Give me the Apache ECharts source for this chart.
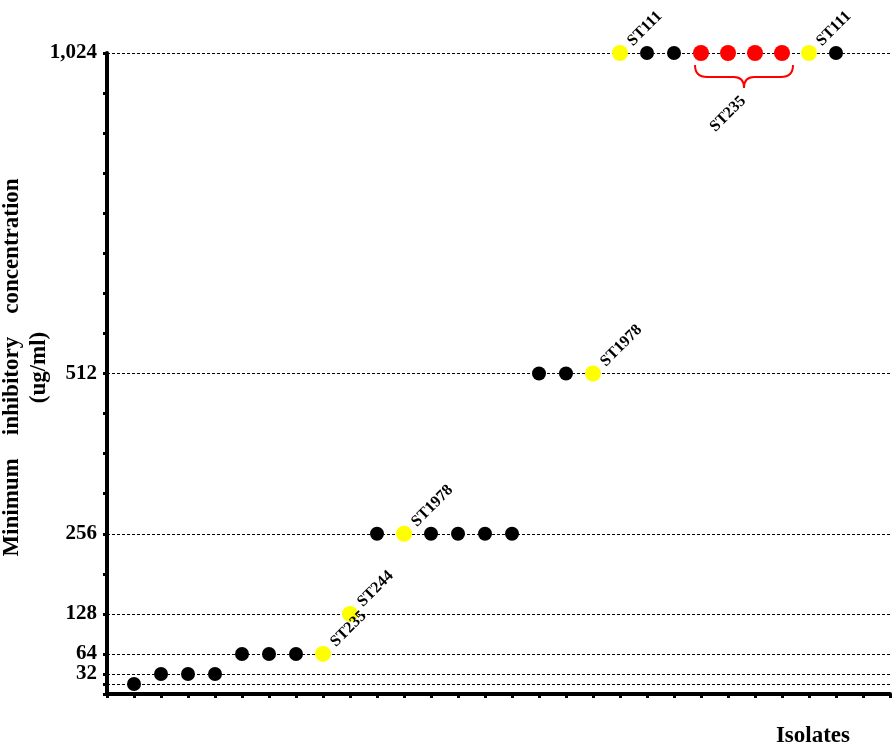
<!DOCTYPE html>
<html>
<head>
<meta charset="utf-8">
<script src="https://cdn.jsdelivr.net/npm/echarts@6/dist/echarts.min.js"></script>
<style>html,body{margin:0;padding:0;background:#fff}#c{width:894px;height:746px}</style>
</head>
<body>
<div id="c"></div>
<script>
// ---- data ----
const isolates = [1,2,3,4,5,6,7,8,9,10,11,12,13,14,15,16,17,18,19,20,21,22,23,24,25,26,27];
const mic      = [16,32,32,32,64,64,64,64,128,256,256,256,256,256,256,512,512,512,1024,1024,1024,1024,1024,1024,1024,1024,1024];
const pointType= ['b','b','b','b','b','b','b','y','y','b','y','b','b','b','b','b','b','y','y','b','b','r','r','r','r','y','b'];
const stLabels = ['','','','','','','','ST235','ST244','','ST1978','','','','','','','ST1978','ST111','','','','','','','ST111',''];
const bracketGroup = [[22, 25, 1024, 'ST235']];
const gridValues = [16, 32, 64, 128, 256, 512, 1024];
const yLabelValues = [32, 64, 128, 256, 512, 1024];
const yTickValues = [0, 16, 32, 64, 128, 192, 256, 320, 384, 448, 512, 576, 640, 704, 768, 832, 896, 960, 1024];

const colorMap = {b: '#000000', y: '#FFFF00', r: '#FF0000'};
const sizeMap = {b: 14, y: 16, r: 16};
const FONT = '"Liberation Serif", "Times New Roman", serif';

const chart = echarts.init(document.getElementById('c'), null, {renderer: 'canvas'});

const scatterData = isolates.map((x, i) => ({
  value: [x, mic[i]],
  symbolSize: sizeMap[pointType[i]],
  itemStyle: {color: colorMap[pointType[i]], opacity: 1},
  label: stLabels[i] ? {show: true, formatter: stLabels[i]} : {show: false}
}));

// a blank label at 0 keeps ECharts' min-label overlap rule away from 32/64
const labelSlots = [0].concat(yLabelValues);

const option = {
  animation: false,
  backgroundColor: '#ffffff',
  grid: {left: 107, right: 4, top: 53, bottom: 52, containLabel: false, outerBoundsMode: 'none'},
  xAxis: {
    type: 'value', min: 0, max: 29, interval: 1,
    name: 'Isolates', nameLocation: 'end', nameGap: -40, nameMoveOverlap: false,
    nameTextStyle: {fontFamily: FONT, fontWeight: 'bold', fontSize: 23, color: '#000', align: 'right', verticalAlign: 'top', padding: [31, 0, 0, 0]},
    axisLine: {show: true, onZero: false, lineStyle: {color: '#000', width: 4}},
    axisTick: {show: true, inside: false, length: 4, lineStyle: {color: '#000', width: 3}},
    axisLabel: {show: false},
    splitLine: {show: false}
  },
  yAxis: {
    type: 'value', min: 0, max: 1024,
    name: 'Minimum    inhibitory    concentration\n(ug/ml)',
    nameLocation: 'middle', nameGap: 54, nameRotate: 90, nameMoveOverlap: false,
    nameTextStyle: {fontFamily: FONT, fontWeight: 'bold', fontSize: 23, color: '#000', lineHeight: 27, padding: [0, 0, 0, 12]},
    axisLine: {show: true, lineStyle: {color: '#000', width: 4}},
    axisTick: {show: true, length: 4, customValues: yTickValues, lineStyle: {color: '#000', width: 3}},
    axisLabel: {
      show: true, customValues: labelSlots, margin: 10, hideOverlap: false,
      showMaxLabel: true,
      fontFamily: FONT, fontWeight: 'bold', fontSize: 21, color: '#000',
      verticalAlign: 'middle', lineHeight: 14, padding: [3, 0, 0, 0],
      formatter: v => (yLabelValues.indexOf(v) >= 0 ? v.toLocaleString('en-US') : '')
    },
    splitLine: {show: false}
  },
  series: [
    {
      type: 'scatter',
      symbol: 'circle',
      data: scatterData,
      z: 5,
      itemStyle: {opacity: 1},
      label: {
        position: 'right', distance: 1, rotate: 45, offset: [7.5, 2],
        align: 'left', verticalAlign: 'bottom',
        fontFamily: FONT, fontWeight: 'bold', fontSize: 16, color: '#000'
      },
      markLine: {
        silent: true, symbol: 'none', animation: false,
        label: {show: false},
        lineStyle: {color: '#000', type: [3, 2], width: 1, opacity: 1},
        data: gridValues.map(v => ({yAxis: v}))
      }
    },
    {
      type: 'custom',
      data: bracketGroup,
      z: 4,
      renderItem: function (params, api) {
        const a = api.coord([api.value(0), api.value(2)]);
        const b = api.coord([api.value(1), api.value(2)]);
        const xl = a[0] - 6, xr = b[0] + 11, xm = (xl + xr) / 2;
        const y0 = a[1] + 12, y1 = a[1] + 24, y2 = a[1] + 35;
        const path = `M${xl},${y0} Q${xl},${y1} ${xl+12},${y1} L${xm-10},${y1} Q${xm},${y1} ${xm},${y2} Q${xm},${y1} ${xm+10},${y1} L${xr-12},${y1} Q${xr},${y1} ${xr},${y0}`;
        return {
          type: 'group',
          children: [
            {type: 'path', shape: {pathData: path}, style: {fill: null, stroke: '#FF0000', lineWidth: 2}},
            {type: 'text', x: xm - 16, y: y2 + 26, rotation: Math.PI / 4, originX: 0, originY: 0,
             style: {text: bracketGroup[params.dataIndex][3], fontFamily: FONT, fontWeight: 'bold', fontSize: 16, fill: '#000', align: 'center', verticalAlign: 'middle'}}
          ]
        };
      }
    }
  ]
};
chart.setOption(option);
</script>
</body>
</html>
